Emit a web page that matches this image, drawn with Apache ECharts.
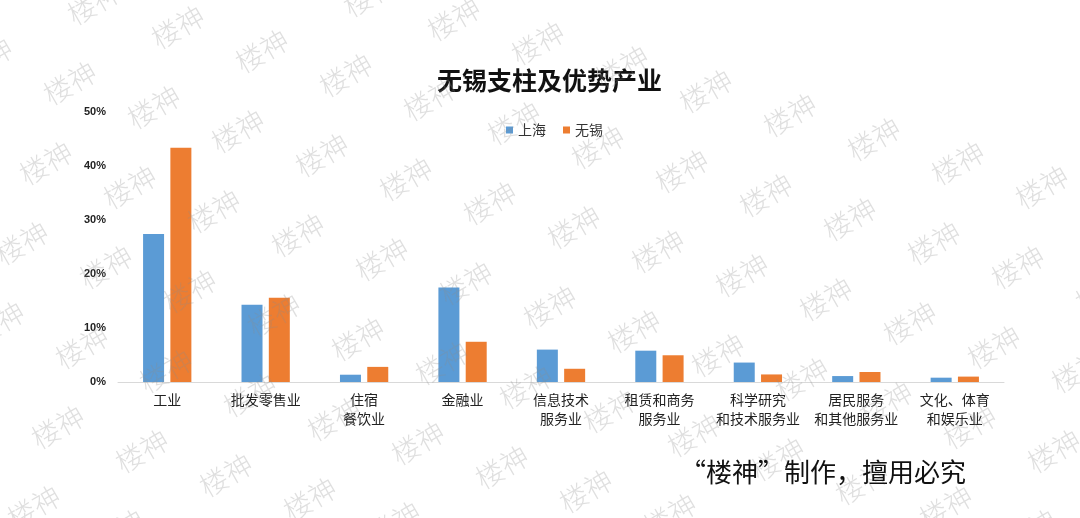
<!DOCTYPE html>
<html>
<head>
<meta charset="utf-8">
<script src="https://cdn.jsdelivr.net/npm/echarts@6/dist/echarts.min.js"></script>
<style>html,body{margin:0;padding:0;background:#fff;}#main{width:1080px;height:518px;}</style>
</head>
<body>
<div id="main"></div>
<script>
var categories = ['工业', '批发零售业', '住宿\n餐饮业', '金融业', '信息技术\n服务业', '租赁和商务\n服务业', '科学研究\n和技术服务业', '居民服务\n和其他服务业', '文化、体育\n和娱乐业'];
var shanghai = [27.4, 14.3, 1.35, 17.5, 6.0, 5.8, 3.6, 1.1, 0.8];
var wuxi = [43.4, 15.6, 2.8, 7.45, 2.45, 4.95, 1.4, 1.85, 1.0];
var seriesNames = ['上海', '无锡'];
var titleText = '无锡支柱及优势产业';
var noteText = '“楼神”制作，擅用必究';
var watermarkText = '楼神';

var cjk = '"Noto Sans CJK SC", "Microsoft YaHei", sans-serif';

// decorative tiled watermark
var marks = [];
for (var i = -4; i < 16; i++) {
  for (var j = -2; j < 9; j++) {
    var x = 70 + i * 84 - j * 24;
    var y = 83 + i * 24 + j * 80;
    if (x < -40 || x > 1120 || y < -40 || y > 560) continue;
    marks.push({
      type: 'text', x: x, y: y, rotation: Math.PI / 6, z: 100, silent: true,
      style: { text: watermarkText, fill: 'rgba(140,140,140,0.28)', font: '300 28px ' + cjk, align: 'center', verticalAlign: 'middle' }
    });
  }
}
marks.push({
  type: 'text', left: 680, top: 459, z: 101,
  style: { text: noteText, fill: '#111', font: '26px ' + cjk }
});

var chart = echarts.init(document.getElementById('main'));
chart.setOption({
  backgroundColor: '#fff',
  animation: false,
  title: {
    text: titleText, left: 432, top: 63,
    textStyle: { fontFamily: cjk, fontSize: 25, fontWeight: 'bold', color: '#111' }
  },
  legend: {
    data: seriesNames, left: 501, top: 118, itemWidth: 7, itemHeight: 7, itemGap: 17, icon: 'rect',
    textStyle: { fontFamily: cjk, fontSize: 14, color: '#333' }
  },
  grid: { left: 118, right: 76, top: 112, bottom: 136 },
  xAxis: {
    type: 'category', data: categories,
    axisLine: { lineStyle: { color: '#d9d9d9', width: 1 } },
    axisTick: { show: false },
    axisLabel: { interval: 0, margin: 8, fontFamily: cjk, fontSize: 14, lineHeight: 19, color: '#222' }
  },
  yAxis: {
    type: 'value', min: 0, max: 50, interval: 10,
    axisLine: { show: false }, axisTick: { show: false }, splitLine: { show: false },
    axisLabel: { formatter: '{value}%', fontFamily: 'Arial, "Liberation Sans", sans-serif', fontWeight: 'bold', fontSize: 11, color: '#222', margin: 12 }
  },
  series: [
    { name: seriesNames[0], type: 'bar', data: shanghai, barWidth: 21, barGap: '30%', itemStyle: { color: '#5B9BD5' } },
    { name: seriesNames[1], type: 'bar', data: wuxi, barWidth: 21, barGap: '30%', itemStyle: { color: '#ED7D31' } }
  ],
  graphic: marks
});
</script>
</body>
</html>
